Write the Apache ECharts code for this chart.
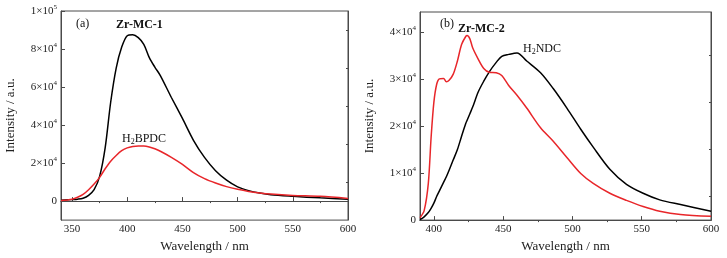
<!DOCTYPE html>
<html>
<head>
<meta charset="utf-8">
<script src="https://cdn.jsdelivr.net/npm/echarts@6/dist/echarts.min.js"></script>
<style>
  html, body { margin: 0; padding: 0; background: #fff; }
  #chart { width: 727px; height: 258px; }
</style>
</head>
<body>
<div id="chart"></div>
<script>
// intensities are in units of 1e4 (a.u.)
const waveA = [340, 350, 355, 360, 365, 370, 375, 380, 385, 390, 395, 400, 405, 410, 415, 420,
  425, 430, 440, 450, 460, 470, 480, 490, 500, 510, 520, 530, 550, 575, 600];
const zrMC1 = [0.05, 0.08, 0.1, 0.15, 0.3, 0.6, 1.3, 2.8, 5.2, 7.0, 8.1, 8.7, 8.75, 8.6, 8.25, 7.55,
  7.05, 6.6, 5.45, 4.35, 3.2, 2.3, 1.6, 1.1, 0.75, 0.55, 0.42, 0.33, 0.25, 0.17, 0.1];
const h2bpdc = [0.03, 0.1, 0.2, 0.35, 0.6, 0.9, 1.25, 1.7, 2.1, 2.4, 2.65, 2.8, 2.87, 2.9, 2.9, 2.85,
  2.75, 2.62, 2.3, 1.93, 1.5, 1.18, 0.95, 0.76, 0.62, 0.51, 0.43, 0.37, 0.3, 0.25, 0.14];

const waveB = [390, 393, 396, 398, 400, 402, 404, 407, 409, 411, 414, 417, 420, 423, 424, 426, 428,
  432, 436, 440, 445, 449, 454, 460, 467, 477, 486, 496, 506, 515, 527, 539, 551, 563, 578, 600];
const zrMC2 = [0.05, 0.2, 0.78, 1.75, 2.5, 2.88, 3.0, 3.01, 2.94, 2.97, 3.1, 3.38, 3.73, 3.9, 3.92, 3.85, 3.66,
  3.42, 3.22, 3.14, 3.13, 3.07, 2.86, 2.65, 2.38, 1.96, 1.68, 1.33, 0.99, 0.78, 0.57, 0.42, 0.29, 0.19, 0.12, 0.08];
const h2ndc = [0.01, 0.07, 0.16, 0.25, 0.36, 0.5, 0.62, 0.8, 0.92, 1.06, 1.28, 1.5, 1.78, 2.05, 2.12, 2.26, 2.4,
  2.72, 2.95, 3.15, 3.35, 3.48, 3.52, 3.55, 3.38, 3.13, 2.8, 2.38, 1.93, 1.55, 1.08, 0.76, 0.57, 0.43, 0.33, 0.19];

const xTicksA = [350, 400, 450, 500, 550, 600];
const xMinorA = [375, 425, 475, 525, 575];
const yTicksA = [0, 2, 4, 6, 8, 10];
const yMinorA = [1, 3, 5, 7, 9];
const xTicksB = [400, 450, 500, 550, 600];
const xMinorB = [425, 475, 525, 575];
const yTicksB = [0, 1, 2, 3, 4];
const yMinorB = [0.5, 1.5, 2.5, 3.5];

const FONT = "Liberation Serif";
const AXIS = "#4a4a4a";

const chart = echarts.init(document.getElementById("chart"));

const pairs = (xs, ys) => xs.map((x, i) => [x, ys[i]]);

function yLabel(v) {
  if (v === 0) return "0";
  if (v === 10) return "{m|1×10}{e|5}";
  return "{m|" + v + "×10}{e|4}";
}
const rich = {
  m: { fontFamily: FONT, fontSize: 11, color: "#222" },
  e: { fontFamily: FONT, fontSize: 7, color: "#222", verticalAlign: "top", padding: [0, 0, 7, 0] }
};

function xAxes(grid, min, max, major, minor) {
  const base = {
    type: "value", gridIndex: grid, min, max,
    axisLine: { lineStyle: { color: AXIS, width: 1 } },
    splitLine: { show: false }
  };
  return [
    Object.assign({}, base, {
      name: "Wavelength / nm", nameLocation: "middle", nameGap: 18,
      nameTextStyle: { fontFamily: FONT, fontSize: 13, color: "#222" },
      axisTick: { inside: true, length: 4, customValues: major, lineStyle: { color: AXIS } },
      axisLabel: { customValues: major, margin: 4, fontFamily: FONT, fontSize: 11, color: "#222" }
    }),
    Object.assign({}, base, {
      axisTick: { inside: true, length: 2, customValues: minor, lineStyle: { color: AXIS } },
      axisLabel: { show: false }
    })
  ];
}

function yAxes(grid, min, max, major, minor, gap) {
  const base = {
    type: "value", gridIndex: grid, min, max,
    axisLine: { show: true, lineStyle: { color: AXIS, width: 1 } },
    splitLine: { show: false }
  };
  return [
    Object.assign({}, base, {
      name: "Intensity / a.u.", nameLocation: "middle", nameGap: gap,
      nameTextStyle: { fontFamily: FONT, fontSize: 13, color: "#222" },
      axisTick: { inside: true, length: 4, customValues: major, lineStyle: { color: AXIS } },
      axisLabel: { customValues: major, margin: 4, formatter: yLabel, rich,
        fontFamily: FONT, fontSize: 11, color: "#222" }
    }),
    Object.assign({}, base, {
      axisTick: { inside: true, length: 2, customValues: minor, lineStyle: { color: AXIS } },
      axisLabel: { show: false }
    })
  ];
}

function line(name, xi, yi, xs, ys, color) {
  return {
    name, type: "line", xAxisIndex: xi, yAxisIndex: yi,
    data: pairs(xs, ys), smooth: 0.3, showSymbol: false,
    lineStyle: { color, width: 1.5 }, animation: false
  };
}

const txt = (x, y, parts, bold) => ({
  type: "text", left: x, top: y,
  style: {
    text: parts,
    font: (bold ? "bold " : "") + "12px " + FONT,
    fill: "#111",
    rich: {
      n: { fontFamily: FONT, fontSize: 12, fontWeight: bold ? "bold" : "normal", color: "#111" },
      s: { fontFamily: FONT, fontSize: 8, color: "#111", verticalAlign: "bottom", padding: [6, 0, 0, 0] }
    }
  }
});

chart.setOption({
  backgroundColor: "#fff",
  animation: false,
  grid: [
    { left: 61, right: 379, top: 11, bottom: 32, show: true, borderColor: AXIS, borderWidth: 1 },
    { left: 420, right: 16, top: 12, bottom: 33, show: true, borderColor: AXIS, borderWidth: 1 }
  ],
  xAxis: [...xAxes(0, 340, 600, xTicksA, xMinorA), ...xAxes(1, 390, 600, xTicksB, xMinorB)],
  yAxis: [...yAxes(0, -1, 10, yTicksA, yMinorA, 44), ...yAxes(1, 0, 4.42, yTicksB, yMinorB, 44)],
  series: [
    line("Zr-MC-1", 0, 0, waveA, zrMC1, "#000"),
    line("H2BPDC", 0, 0, waveA, h2bpdc, "#e8262a"),
    line("H2NDC", 2, 2, waveB, h2ndc, "#000"),
    line("Zr-MC-2", 2, 2, waveB, zrMC2, "#e8262a")
  ],
  graphic: [
    txt(76, 18, "{n|(a)}", false),
    txt(116, 19, "{n|Zr-MC-1}", true),
    txt(122, 133, "{n|H}{s|2}{n|BPDC}", false),
    txt(440, 18, "{n|(b)}", false),
    txt(458, 23, "{n|Zr-MC-2}", true),
    txt(523, 43, "{n|H}{s|2}{n|NDC}", false)
  ]
});
</script>
</body>
</html>
